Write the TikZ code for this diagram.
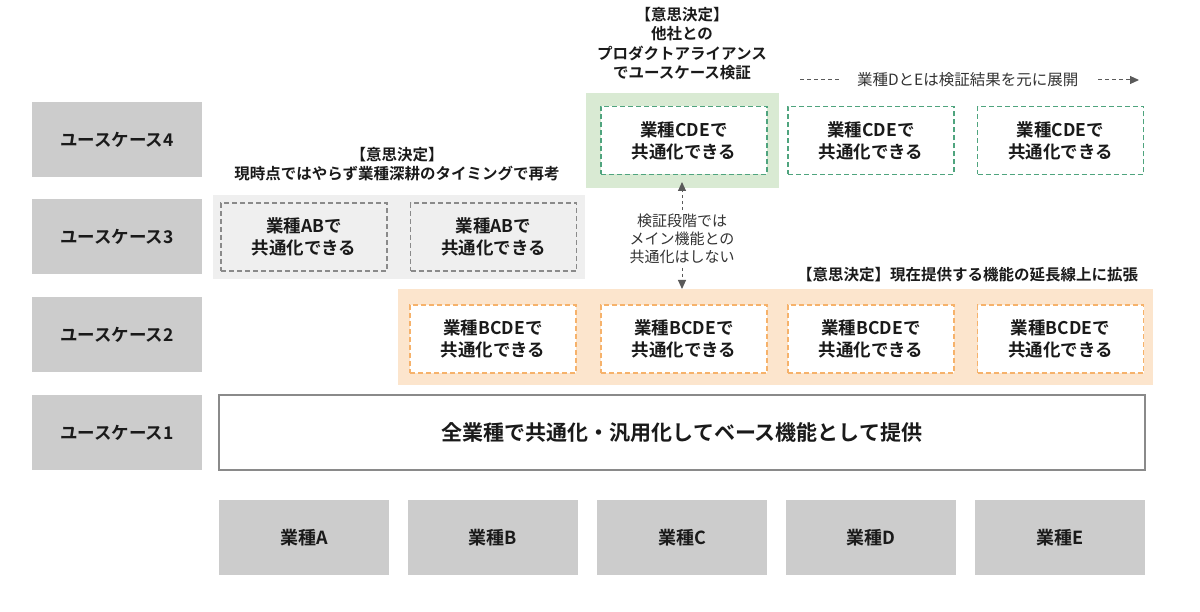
\documentclass[tikz,border=0pt]{standalone}
\usepackage{fontspec}
\setmainfont{Noto Sans CJK JP}[BoldFont={Noto Sans CJK JP Bold}]
\usetikzlibrary{arrows.meta}
\definecolor{lblgray}{HTML}{CCCCCC}
\definecolor{bgorange}{HTML}{FCE5CD}
\definecolor{dorange}{HTML}{F6B26B}
\definecolor{bggray}{HTML}{EFEFEF}
\definecolor{dgray}{HTML}{8A8A8A}
\definecolor{bggreen}{HTML}{D9EAD3}
\definecolor{dgreen}{HTML}{4FA47E}
\definecolor{txt}{HTML}{1A1A1A}
\definecolor{arr}{HTML}{5A5A5A}
\tikzset{
  every node/.style={inner sep=0pt, outer sep=0pt, text=txt},
  lblbox/.style={fill=lblgray, minimum width=170pt, minimum height=75pt,
    font=\bfseries\fontsize{17.5}{21}\selectfont},
  indbox/.style={lblbox, font=\bfseries\fontsize{18}{21}\selectfont},
  basebox/.style={draw=dgray, line width=1.3pt, fill=white, minimum width=926pt, minimum height=75pt,
    font=\bfseries\fontsize{21}{25}\selectfont},
  dbox/.style={dash pattern=on 5pt off 3pt, line width=1.2pt, minimum width=166pt, minimum height=68pt,
    align=center, font=\bfseries\fontsize{17.5}{22}\selectfont},
  obox/.style={dbox, draw=dorange, fill=white},
  gbox/.style={dbox, draw=dgray},
  grbox/.style={dbox, draw=dgreen, fill=white},
  ttl/.style={align=center, font=\bfseries\fontsize{15.5}{19.3}\selectfont},
  note/.style={align=center, text=black!80, font=\fontsize{15.5}{18}\selectfont},
  mnote/.style={align=center, text=black!80, font=\fontsize{15}{18}\selectfont},
  darrow/.style={draw=arr, line width=1pt, dash pattern=on 3pt off 3pt,
    -{Triangle[length=9pt,width=8pt]}},
}
\begin{document}
\begin{tikzpicture}[x=1pt,y=-1pt]
\useasboundingbox (0,0) rectangle (1200,612);
% row labels
\node[lblbox] (u4) at (117,139.5) {ユースケース4};
\node[lblbox] (u3) at (117,236.5) {ユースケース3};
\node[lblbox] (u2) at (117,334.5) {ユースケース2};
\node[lblbox] (u1) at (117,432.5) {ユースケース1};
% industries
\node[indbox] (ia) at (304,537.5) {業種A};
\node[indbox] (ib) at (493,537.5) {業種B};
\node[indbox] (ic) at (682,537.5) {業種C};
\node[indbox] (id) at (871,537.5) {業種D};
\node[indbox] (ie) at (1060,537.5) {業種E};
% use case 1
\node[basebox] (base) at (682,432.5) {全業種で共通化・汎用化してベース機能として提供};
% use case 2
\node[fill=bgorange, minimum width=755pt, minimum height=96pt] (obg) at (775.5,337) {};
\node[obox] (o1) at (493,339) {業種BCDEで\\共通化できる};
\node[obox] (o2) at (684,339) {業種BCDEで\\共通化できる};
\node[obox] (o3) at (871,339) {業種BCDEで\\共通化できる};
\node[obox] (o4) at (1060.5,339) {業種BCDEで\\共通化できる};
\node[ttl, anchor=east] (ot) at (1138,275) {【意思決定】現在提供する機能の延長線上に拡張};
% use case 3
\node[fill=bggray, minimum width=372pt, minimum height=84pt] (gbg) at (399,237) {};
\node[gbox] (g1) at (304,237) {業種ABで\\共通化できる};
\node[gbox] (g2) at (493.5,237) {業種ABで\\共通化できる};
\node[ttl] (gt) at (397,164.5) {【意思決定】\\現時点ではやらず業種深耕のタイミングで再考};
% use case 4
\node[fill=bggreen, minimum width=193pt, minimum height=95pt] (grbg) at (682.5,140.5) {};
\node[grbox] (c1) at (684,140.5) {業種CDEで\\共通化できる};
\node[grbox] (c2) at (871,140.5) {業種CDEで\\共通化できる};
\node[grbox] (c3) at (1060.5,140.5) {業種CDEで\\共通化できる};
\node[ttl] (ct) at (682,43.5) {【意思決定】\\他社との\\プロダクトアライアンス\\でユースケース検証};
% legend
\coordinate (l1) at (800,80);
\coordinate (l2) at (841,80);
\node[note, anchor=west] (lt) at (857,80) {業種DとEは検証結果を元に展開};
\coordinate (l3) at (1098,80);
\coordinate (l4) at (1139,80);
\draw[draw=arr, line width=1pt, dash pattern=on 4pt off 3pt] (l1) -- (l2);
\draw[darrow, dash pattern=on 4pt off 3pt] (l3) -- (l4);
% middle note
\node[mnote] (mid) at (682,239) {検証段階では\\メイン機能との\\共通化はしない};
\draw[darrow, shorten <=4pt, shorten >=-6pt] (mid.north) -- (grbg.south -| mid.north);
\draw[darrow, shorten <=4pt] (mid.south) -- (obg.north -| mid.south);
\end{tikzpicture}
\end{document}
